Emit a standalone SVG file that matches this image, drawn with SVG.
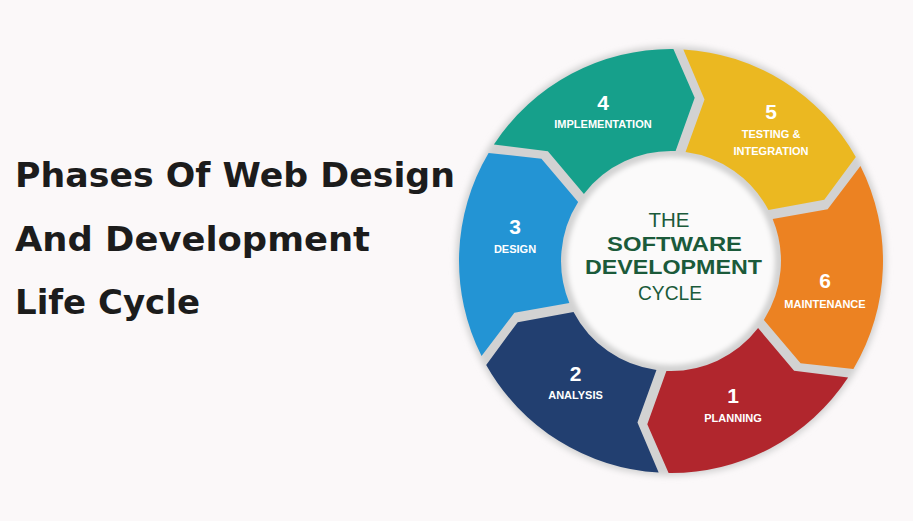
<svg xmlns="http://www.w3.org/2000/svg" xmlns:xlink="http://www.w3.org/1999/xlink" width="913" height="521" viewBox="0 0 913 521">
<style>
.title{font-family:"DejaVu Sans","Liberation Sans",sans-serif;font-weight:700;font-size:33px;fill:#1c1c1c}
.num{font-family:"Liberation Sans",Arial,sans-serif;font-weight:700;font-size:21px;fill:#ffffff;text-anchor:middle}
.lbl{font-family:"Liberation Sans",Arial,sans-serif;font-weight:700;font-size:11px;fill:#ffffff;text-anchor:middle}
.ctr{font-family:"Liberation Sans",Arial,sans-serif;fill:#1b5a3a;text-anchor:middle}
.ctrb{font-weight:700;font-size:21px}
.ctrn{font-weight:400;font-size:21px}
</style>
<defs>
<path id="seg" d="M -177.1,-116.5 A 212 212 0 0 1 2.4,-212 L 23.7,-163.3 L 4.6,-109.9 A 110 110 0 0 0 -87.1,-67.1 L -123.1,-109.8 Z"/>
<filter id="blur3" x="-20%" y="-20%" width="140%" height="140%"><feGaussianBlur stdDeviation="3"/></filter>
<filter id="blur2" x="-20%" y="-20%" width="140%" height="140%"><feGaussianBlur stdDeviation="2.5"/></filter>
</defs>
<rect width="913" height="521" fill="#fbf8f9"/>
<g id="title">
<text class="title" x="15" y="187" textLength="440" lengthAdjust="spacingAndGlyphs">Phases Of Web Design</text>
<text class="title" x="15" y="251" textLength="355" lengthAdjust="spacingAndGlyphs">And Development</text>
<text class="title" x="15" y="314" textLength="185" lengthAdjust="spacingAndGlyphs">Life Cycle</text>
</g>
<g id="ring-base">
<circle cx="671" cy="261" r="215" fill="#d2d2d2" filter="url(#blur3)"/>
</g>
<g id="phase-4">
<use xlink:href="#seg" href="#seg" transform="translate(671,261)" fill="#16a08b"/>
<text class="num" x="603" y="110">4</text>
<text class="lbl" x="603" y="127.5">IMPLEMENTATION</text>
</g>
<g id="phase-5">
<use xlink:href="#seg" href="#seg" transform="translate(671,261) rotate(60)" fill="#ebb821"/>
<text class="num" x="771" y="119">5</text>
<text class="lbl" x="771" y="137.5">TESTING &amp;</text>
<text class="lbl" x="771" y="155">INTEGRATION</text>
</g>
<g id="phase-6">
<use xlink:href="#seg" href="#seg" transform="translate(671,261) rotate(120)" fill="#ec8222"/>
<text class="num" x="825" y="288">6</text>
<text class="lbl" x="825" y="307.5">MAINTENANCE</text>
</g>
<g id="phase-1">
<use xlink:href="#seg" href="#seg" transform="translate(671,261) rotate(180)" fill="#b1262d"/>
<text class="num" x="733" y="403">1</text>
<text class="lbl" x="733" y="422">PLANNING</text>
</g>
<g id="phase-2">
<use xlink:href="#seg" href="#seg" transform="translate(671,261) rotate(240)" fill="#223f70"/>
<text class="num" x="575.5" y="381">2</text>
<text class="lbl" x="575.5" y="399">ANALYSIS</text>
</g>
<g id="phase-3">
<use xlink:href="#seg" href="#seg" transform="translate(671,261) rotate(300)" fill="#2394d4"/>
<text class="num" x="515" y="234">3</text>
<text class="lbl" x="515" y="253">DESIGN</text>
</g>
<g id="center">
<circle cx="671" cy="261" r="104" fill="#fbfafa" filter="url(#blur2)"/>
<text class="ctr ctrn" x="669" y="227" textLength="41" lengthAdjust="spacingAndGlyphs">THE</text>
<text class="ctr ctrb" x="674.5" y="251" textLength="135" lengthAdjust="spacingAndGlyphs">SOFTWARE</text>
<text class="ctr ctrb" x="673.5" y="274" textLength="177" lengthAdjust="spacingAndGlyphs">DEVELOPMENT</text>
<text class="ctr ctrn" x="670" y="300" textLength="64" lengthAdjust="spacingAndGlyphs">CYCLE</text>
</g>
</svg>
